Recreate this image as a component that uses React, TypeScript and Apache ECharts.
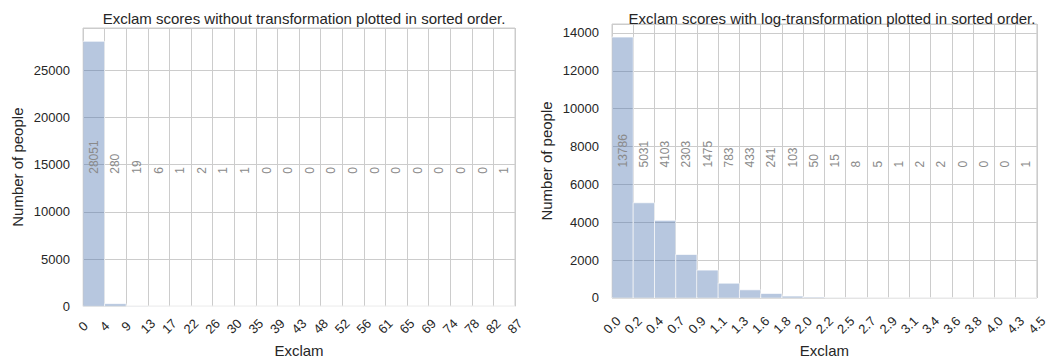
import React, { useEffect, useRef } from "react";
import * as echarts from "echarts";

// Histogram of raw exclamation scores (20 bins)
const rawEdgeLabels = ["0", "4", "9", "13", "17", "22", "26", "30", "35", "39", "43", "48", "52", "56", "61", "65", "69", "74", "78", "82", "87"];
const rawCounts = [28051, 280, 19, 6, 1, 2, 1, 1, 0, 0, 0, 0, 0, 0, 0, 0, 0, 0, 0, 1];

// Histogram of log-transformed exclamation scores (20 bins)
const logEdgeLabels = ["0.0", "0.2", "0.4", "0.7", "0.9", "1.1", "1.3", "1.6", "1.8", "2.0", "2.2", "2.5", "2.7", "2.9", "3.1", "3.4", "3.6", "3.8", "4.0", "4.3", "4.5"];
const logCounts = [13786, 5031, 4103, 2303, 1475, 783, 433, 241, 103, 50, 15, 8, 5, 1, 2, 2, 0, 0, 0, 1];

const titles = [
  "Exclam scores without transformation plotted in sorted order.",
  "Exclam scores with log-transformation plotted in sorted order.",
];
const xName = "Exclam";
const yName = "Number of people";

const FONT = "'Liberation Sans', Arial, sans-serif";
const GRID_COLOR = "#cccccc";
const TEXT_COLOR = "#262626";

export default function App() {
  const ref = useRef<HTMLDivElement>(null);

  useEffect(() => {
    if (!ref.current) return;
    const chart = echarts.init(ref.current, undefined, { renderer: "svg" });

    const panels = [
      { edges: rawEdgeLabels, counts: rawCounts, interval: 5000, grid: { left: 83, top: 28, width: 432, height: 279 }, labelMargin: 20, nameGap: 36 },
      { edges: logEdgeLabels, counts: logCounts, interval: 2000, grid: { left: 612, top: 24, width: 430, height: 280 }, labelMargin: 27, nameGap: 39 },
    ];

    const grids = panels.map((p) => ({
      ...p.grid,
      show: true,
      borderColor: GRID_COLOR,
      borderWidth: 1,
      backgroundColor: "#ffffff",
    }));

    const xAxes = panels.map((p, i) => ({
      type: "value",
      gridIndex: i,
      min: 0,
      max: p.counts.length,
      interval: 1,
      name: xName,
      nameLocation: "middle",
      nameGap: p.nameGap,
      nameTextStyle: { fontFamily: FONT, fontSize: 15, color: TEXT_COLOR },
      axisLine: { show: false },
      axisTick: { show: false },
      splitLine: { show: true, lineStyle: { color: GRID_COLOR, width: 1 } },
      axisLabel: {
        rotate: 45,
        align: "center",
        verticalAlign: "middle",
        margin: p.labelMargin,
        fontFamily: FONT,
        fontSize: 13,
        color: TEXT_COLOR,
        showMinLabel: true,
        showMaxLabel: true,
        formatter: (v: number) => p.edges[Math.round(v)] ?? "",
      },
    }));

    const yAxes = panels.map((p, i) => ({
      type: "value",
      gridIndex: i,
      min: 0,
      max: Math.max(...p.counts) * 1.05,
      interval: p.interval,
      name: yName,
      nameLocation: "middle",
      nameGap: 58,
      nameTextStyle: { fontFamily: FONT, fontSize: 15, color: TEXT_COLOR },
      axisLine: { show: false },
      axisTick: { show: false },
      splitLine: { show: true, lineStyle: { color: GRID_COLOR, width: 1 } },
      axisLabel: {
        margin: 13,
        fontFamily: FONT,
        fontSize: 13,
        color: TEXT_COLOR,
        showMaxLabel: false,
        formatter: (v: number) => String(v),
      },
    }));

    const series = panels.map((p, i) => {
      const labelY = Math.max(...p.counts) / 2;
      return {
        type: "custom",
        xAxisIndex: i,
        yAxisIndex: i,
        data: p.counts.map((c, k) => [k, c]),
        renderItem: (_params: any, api: any) => {
          const k = api.value(0);
          const c = api.value(1);
          const p0 = api.coord([k, 0]);
          const p1 = api.coord([k + 1, c]);
          const mid = api.coord([k + 0.5, labelY]);
          return {
            type: "group",
            children: [
              {
                type: "rect",
                shape: { x: p0[0], y: p1[1], width: p1[0] - p0[0], height: p0[1] - p1[1] },
                style: { fill: "rgba(76,114,176,0.4)", stroke: "rgba(255,255,255,0.7)", lineWidth: 1 },
              },
              {
                type: "text",
                x: mid[0],
                y: mid[1],
                rotation: Math.PI / 2,
                style: {
                  text: String(c),
                  align: "left",
                  verticalAlign: "middle",
                  fontFamily: FONT,
                  fontSize: 12,
                  fill: "#8a8a8a",
                },
              },
            ],
          };
        },
      };
    });

    chart.setOption({
      animation: false,
      backgroundColor: "#ffffff",
      title: titles.map((t, i) => ({
        text: t,
        left: panels[i].grid.left + panels[i].grid.width / 2,
        top: 6,
        textAlign: "center",
        textStyle: { fontFamily: FONT, fontSize: 15, fontWeight: "normal", color: TEXT_COLOR },
      })),
      grid: grids,
      xAxis: xAxes,
      yAxis: yAxes,
      series,
    });

    return () => chart.dispose();
  }, []);

  return (
    <div
      ref={ref}
      style={{ position: "absolute", left: 0, top: 0, width: 1050, height: 363 }}
    />
  );
}
